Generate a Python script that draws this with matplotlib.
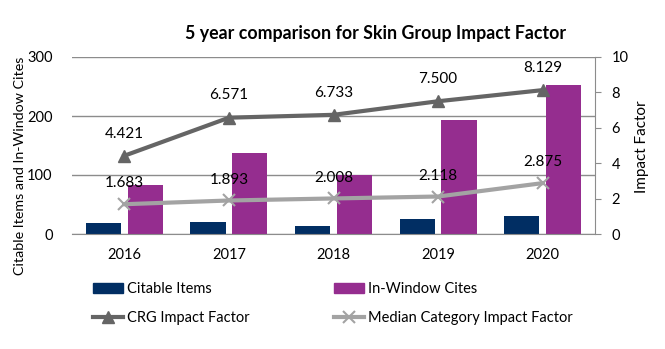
import numpy as np
import matplotlib.pyplot as plt
from matplotlib.lines import Line2D
from matplotlib.patches import Patch

plt.rcParams['font.family'] = ['Lato', 'DejaVu Sans']

years = ['2016', '2017', '2018', '2019', '2020']
citable = [18, 20, 14, 25, 30]
cites = [83, 137, 100, 194, 252]
crg_if = [4.421, 6.571, 6.733, 7.500, 8.129]
median_if = [1.683, 1.893, 2.008, 2.118, 2.875]

navy = '#012E63'
purple = '#952D8F'
dark = '#656565'
light = '#A3A3A3'
grid = '#8C8C8C'

fig = plt.figure(figsize=(6.65, 3.49), dpi=100)
ax = fig.add_axes([72/665, 1-234/349, (595-72)/665, (234-57)/349])
x = np.arange(len(years))
w = 0.335
ax.bar(x - 0.2, citable, w, color=navy, zorder=2)
ax.bar(x + 0.2, cites, w, color=purple, zorder=2)
ax.set_xlim(-0.5, 4.5)
ax.set_ylim(0, 300)
ax.set_yticks([0, 100, 200, 300])
ax.yaxis.grid(True, color=grid, lw=1, zorder=0)
ax.set_axisbelow(True)
ax.set_xticks(x)
ax.set_xticklabels(years, fontsize=10.5)
ax.tick_params(axis='x', length=0, pad=10)
ax.tick_params(axis='y', length=0, pad=14, labelsize=10.5)
for s in ['left', 'top', 'right']:
    ax.spines[s].set_visible(False)
ax.spines['bottom'].set_color(grid)

ax2 = ax.twinx()
ax2.plot(x, crg_if, color=dark, lw=3, marker='^', ms=9, zorder=3)
ax2.plot(x, median_if, color=light, lw=3, marker='x', ms=9, mew=1.5, zorder=3)
for i in range(len(years)):
    ax2.annotate(f'{crg_if[i]:.3f}', (x[i], crg_if[i]), xytext=(0, 16),
                 textcoords='offset points', ha='center', va='center', fontsize=11)
    ax2.annotate(f'{median_if[i]:.3f}', (x[i], median_if[i]), xytext=(0, 15),
                 textcoords='offset points', ha='center', va='center', fontsize=11)
ax2.set_ylim(0, 10)
ax2.set_yticks([0, 2, 4, 6, 8, 10])
ax2.tick_params(axis='y', length=4, color=grid, pad=8, labelsize=10.5)
for s in ['left', 'top', 'bottom']:
    ax2.spines[s].set_visible(False)
ax2.spines['right'].set_color(grid)

fig.text(376/665, 1-33/349, '5 year comparison for Skin Group Impact Factor',
         ha='center', va='center', fontsize=12.8, fontweight='bold')
fig.text(20/665, 1-166/349, 'Citable Items and In-Window Cites', rotation=90,
         ha='center', va='center', fontsize=10.3)
fig.text(642/665, 1-147/349, 'Impact Factor', rotation=90,
         ha='center', va='center', fontsize=11)

handles = [Patch(color=navy), Patch(color=purple),
           Line2D([], [], color=dark, lw=3, marker='^', ms=9),
           Line2D([], [], color=light, lw=3, marker='x', ms=9, mew=1.5)]
labels = ['Citable Items', 'In-Window Cites', 'CRG Impact Factor', 'Median Category Impact Factor']
leg = fig.legend([handles[0], handles[2], handles[1], handles[3]],
                 [labels[0], labels[2], labels[1], labels[3]],
                 ncol=2, loc='upper left', bbox_to_anchor=(80/665, 1-269/349),
                 frameon=False, fontsize=10.5, handlelength=2.05, handletextpad=0.27,
                 columnspacing=5.8, labelspacing=1.05)

fig.savefig('out.png', dpi=100)
